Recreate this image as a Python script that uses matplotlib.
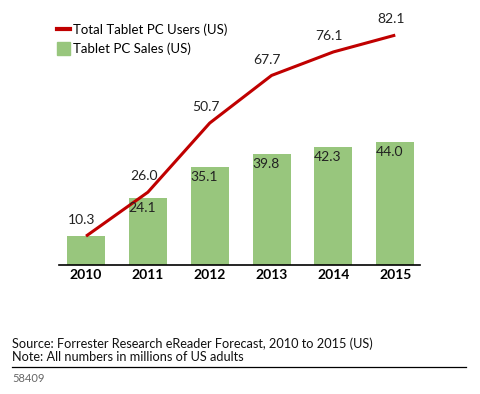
import matplotlib
matplotlib.use("Agg")
import matplotlib.pyplot as plt
import matplotlib.lines as lines
import matplotlib.patches as patches

years = ['2010', '2011', '2012', '2013', '2014', '2015']
users = [10.3, 26.0, 50.7, 67.7, 76.1, 82.1]
sales = [10.3, 24.1, 35.1, 39.8, 42.3, 44.0]

RED = '#C00000'
GREEN = '#98C67D'
plt.rcParams['font.family'] = ['Lato', 'DejaVu Sans']

fig = plt.figure(figsize=(4.8, 3.94), dpi=100)
ax = fig.add_axes([59/480, 1-265/394, 361/480, 252/394])

x = list(range(len(years)))
ax.bar(x, sales, width=0.615, color=GREEN, zorder=1)
ax.plot(x, users, color=RED, lw=2.2, zorder=2, solid_capstyle='butt')

# labels: line values above, bar values inside the bar top
for i, v in enumerate(users):
    ax.annotate(f'{v:.1f}', (i, v), xytext=(-3, 7), textcoords='offset points',
                ha='center', va='bottom', fontsize=10, color='#222222')
for i, v in enumerate(sales):
    if i == 0:
        continue
    ax.annotate(f'{v:.1f}', (i, v), xytext=(-4, -3), textcoords='offset points',
                ha='center', va='top', fontsize=10, color='#222222')

ax.set_xlim(-0.437, 5.40)
ax.set_ylim(0, 90)
ax.set_xticks(x)
ax.set_xticklabels(years, fontweight='bold', fontsize=10)
ax.tick_params(axis='x', length=0, pad=3)
ax.set_yticks([])
for s in ['top', 'right', 'left']:
    ax.spines[s].set_visible(False)
ax.spines['bottom'].set_linewidth(1.2)

# legend
h1 = lines.Line2D([], [], color=RED, lw=3)
h2 = patches.Patch(color=GREEN)
fig.legend([h1, h2], ['Total Tablet PC Users (US)', 'Tablet PC Sales (US)'],
           loc='upper left', bbox_to_anchor=(50/480, 1-17/394), frameon=False,
           fontsize=9.5, handlelength=1.0, handleheight=1.1, handletextpad=0.25,
           labelspacing=0.45, borderpad=0)

# footer
fig.text(12/480, 1-344/394, 'Source: Forrester Research eReader Forecast, 2010 to 2015 (US)',
         fontsize=9.2, va='center', color='#111111')
fig.text(12/480, 1-357/394, 'Note: All numbers in millions of US adults',
         fontsize=9.2, va='center', color='#111111')
fig.add_artist(lines.Line2D([12/480, 466/480], [1-367/394, 1-367/394],
                            color='black', lw=0.9, transform=fig.transFigure))
fig.text(12/480, 1-379/394, '58409', fontsize=8, va='center', color='#666666')

fig.savefig('out.png', dpi=100, facecolor='white')
